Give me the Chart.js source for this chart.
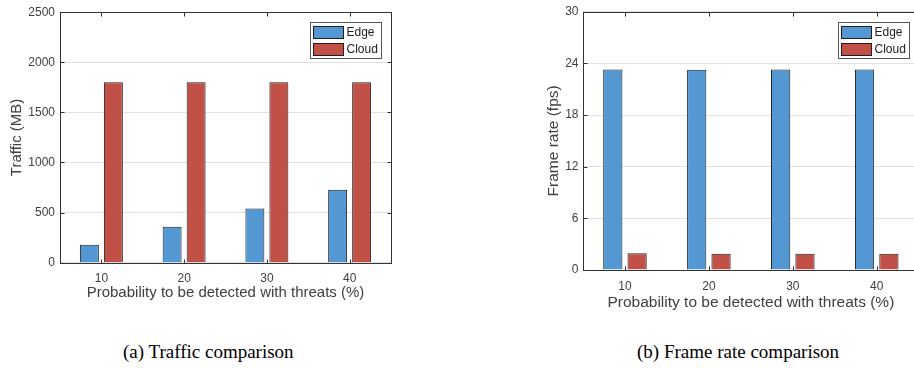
<!DOCTYPE html>
<html>
<head>
<meta charset="utf-8">
<script src="https://cdn.jsdelivr.net/npm/chart.js@4.4.0/dist/chart.umd.min.js"></script>
<style>
  html, body { margin: 0; padding: 0; background: #fff; width: 914px; height: 368px; overflow: hidden; position: relative; }
  .box { position: absolute; }
  .cap { position: absolute; font-family: "Liberation Serif", serif; font-size: 19px; line-height: 1; color: #000; white-space: nowrap; }
</style>
</head>
<body>
<div class="box" style="left:0;top:0;width:400px;height:310px"><canvas id="chart-traffic"></canvas></div>
<div class="box" style="left:530px;top:0;width:400px;height:320px"><canvas id="chart-fps"></canvas></div>
<div class="cap" style="left:123px;top:342px">(a) Traffic comparison</div>
<div class="cap" style="left:637px;top:342px">(b) Frame rate comparison</div>
<script>
// données
const categories   = ['10', '20', '30', '40'];
const seriesNames  = ['Edge', 'Cloud'];
const trafficEdge  = [180, 360, 542, 727];
const trafficCloud = [1800, 1800, 1800, 1800];
const fpsEdge      = [23.3, 23.25, 23.3, 23.3];
const fpsCloud     = [1.95, 1.9, 1.9, 1.9];
const trafficTicks = [0, 500, 1000, 1500, 2000, 2500];
const fpsTicks     = [0, 6, 12, 18, 24, 30];

const BLUE = '#5397d3';
const RED  = '#c15147';
const TEXT = '#404040';
const AXIS = '#333333';

// cadre façon MATLAB (box on) + petites graduations vers l'intérieur + légende encadrée
function framePlugin() {
  return {
    id: 'frame',
    afterDatasetsDraw(chart) {
      const { ctx, chartArea: a, scales: { x, y } } = chart;
      const L = Math.round(a.left) + 0.5, R = Math.round(a.right) + 0.5;
      const T = Math.round(a.top) + 0.5, B = Math.round(a.bottom) + 0.5;
      const tl = 4;
      ctx.save();
      ctx.strokeStyle = AXIS;
      ctx.lineWidth = 1;
      ctx.strokeRect(L, T, R - L, B - T);
      ctx.beginPath();
      x.ticks.forEach((t, i) => {
        const px = Math.round(x.getPixelForTick(i)) + 0.5;
        ctx.moveTo(px, T); ctx.lineTo(px, T + tl);
        ctx.moveTo(px, B); ctx.lineTo(px, B - tl);
      });
      y.ticks.forEach(t => {
        const py = Math.round(y.getPixelForValue(t.value)) + 0.5;
        ctx.moveTo(L, py); ctx.lineTo(L + tl, py);
        ctx.moveTo(R, py); ctx.lineTo(R - tl, py);
      });
      ctx.stroke();

      // légende
      const w = 71, h = 36;
      const bx = Math.round(a.right - 10 - w) + 0.5, by = Math.round(a.top + 10) + 0.5;
      ctx.fillStyle = '#fff';
      ctx.fillRect(bx, by, w, h);
      ctx.strokeStyle = '#555';
      ctx.strokeRect(bx, by, w, h);
      ctx.font = '12px "Liberation Sans", Arial, sans-serif';
      ctx.textBaseline = 'middle';
      chart.data.datasets.forEach((ds, i) => {
        const sy = Math.round(by + 3.5 + i * 17);
        ctx.fillStyle = ds.backgroundColor;
        ctx.fillRect(bx + 3, sy, 30, 12);
        ctx.strokeStyle = '#1f1f1f';
        ctx.strokeRect(bx + 3, sy + 0.5, 30, 12);
        ctx.fillStyle = '#222';
        ctx.fillText(ds.label, bx + 36, sy + 7);
      });
      ctx.restore();
    }
  };
}

function makeChart(id, c) {
  return new Chart(document.getElementById(id), {
    type: 'bar',
    data: {
      labels: categories,
      datasets: [
        { label: seriesNames[0], data: c.edge,  backgroundColor: BLUE },
        { label: seriesNames[1], data: c.cloud, backgroundColor: RED }
      ].map(d => Object.assign(d, {
        borderColor: '#1f1f1f', borderWidth: 1,
        categoryPercentage: 0.58, barPercentage: 0.79
      }))
    },
    options: {
      responsive: true,
      maintainAspectRatio: false,
      animation: false,
      layout: { padding: c.pad },
      plugins: { legend: { display: false }, tooltip: { enabled: false } },
      scales: {
        x: {
          grid: { display: false },
          border: { display: false },
          ticks: { padding: c.xTickPad, color: TEXT, font: { family: 'Liberation Sans', size: 12 } },
          title: {
            display: true, text: 'Probability to be detected with threats (%)', color: TEXT,
            font: { family: 'Liberation Sans', size: c.titleSize }, padding: { top: 0, bottom: c.xTitlePad }
          },
          afterFit: s => { s.height = c.xH; }
        },
        y: {
          min: c.ticks[0], max: c.ticks[c.ticks.length - 1],
          afterBuildTicks: s => { s.ticks = c.ticks.map(v => ({ value: v })); },
          grid: { color: '#e2e2e2', drawTicks: false },
          border: { display: false },
          ticks: {
            padding: c.yTickPad, color: TEXT, font: { family: 'Liberation Sans', size: 12 },
            callback: v => String(v)
          },
          title: {
            display: true, text: c.yTitle, color: TEXT,
            font: { family: 'Liberation Sans', size: c.titleSize }, padding: { top: c.yTitlePad, bottom: 0 }
          },
          afterFit: s => { s.width = c.yW; }
        }
      }
    },
    plugins: [framePlugin()]
  });
}

makeChart('chart-traffic', {
  edge: trafficEdge, cloud: trafficCloud, ticks: trafficTicks, yTitle: 'Traffic (MB)',
  pad: { left: 0, right: 9, top: 7.5, bottom: 0 },
  xH: 47.3, yW: 60, xTickPad: 1, xTitlePad: 8, yTickPad: 5, yTitlePad: 8, titleSize: 15
});

makeChart('chart-fps', {
  edge: fpsEdge, cloud: fpsCloud, ticks: fpsTicks, yTitle: 'Frame rate (fps)',
  pad: { left: 0, right: 11.3, top: 11.3, bottom: 0 },
  xH: 50, yW: 53, xTickPad: 1, xTitlePad: 8, yTickPad: 4.5, yTitlePad: 14, titleSize: 15.5
});
</script>
</body>
</html>
